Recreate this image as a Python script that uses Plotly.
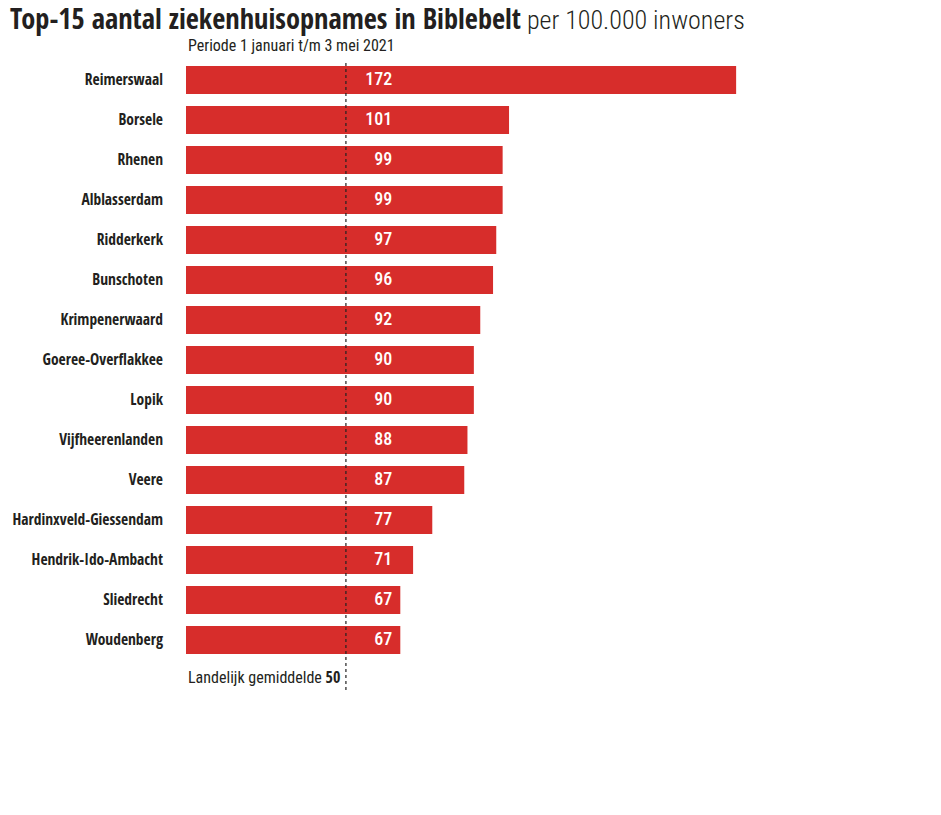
import plotly.graph_objects as go

gemeenten = ["Reimerswaal", "Borsele", "Rhenen", "Alblasserdam", "Ridderkerk",
             "Bunschoten", "Krimpenerwaard", "Goeree-Overflakkee", "Lopik",
             "Vijfheerenlanden", "Veere", "Hardinxveld-Giessendam",
             "Hendrik-Ido-Ambacht", "Sliedrecht", "Woudenberg"]
opnames = [172, 101, 99, 99, 97, 96, 92, 90, 90, 88, 87, 77, 71, 67, 67]
landelijk_gemiddelde = 50

FONT = "Roboto Condensed, Liberation Sans"
BOLDFONT = "Open Sans Condensed, Roboto Condensed"
RED = "#d72d2b"
INK = "#231f20"

fig = go.Figure()
fig.add_trace(go.Bar(
    y=gemeenten, x=opnames, orientation="h",
    marker=dict(color=RED, line=dict(width=0)),
    width=0.7, hoverinfo="skip",
))
# value labels, right-aligned at a fixed position inside the bars
fig.add_trace(go.Scatter(
    y=gemeenten, x=[64.5] * len(opnames), mode="text",
    text=[str(v) for v in opnames], textposition="middle left",
    textfont=dict(family=FONT, size=18, color="white", weight=500),
    hoverinfo="skip", showlegend=False,
))

fig.add_shape(type="line", xref="x", yref="paper",
              x0=landelijk_gemiddelde, x1=landelijk_gemiddelde, y0=-0.05, y1=0.997,
              line=dict(color="#222", width=1.2, dash="dot"))

fig.add_annotation(xref="paper", yref="paper", x=0, y=-0.006, xanchor="left", yanchor="top",
                   text="Landelijk gemiddelde <span style='font-family:Open Sans Condensed'><b>%d</b></span>" % landelijk_gemiddelde,
                   showarrow=False, font=dict(family=FONT, size=16, color=INK))
fig.add_annotation(xref="paper", yref="paper", x=0, y=1.0055, xanchor="left", yanchor="bottom",
                   text="Periode 1 januari t/m 3 mei 2021",
                   showarrow=False, font=dict(family=FONT, size=16, color=INK))

fig.update_layout(
    width=941, height=815,
    margin=dict(l=178, r=28, t=52, b=163),
    paper_bgcolor="white", plot_bgcolor="white",
    showlegend=False,
    title=dict(text="<span style='font-family:Open Sans Condensed'><b>Top-15 aantal ziekenhuisopnames in Biblebelt</b></span>"
                    "<span style='font-size:26px;font-weight:300'> per 100.000 inwoners</span>",
               x=0.0021, xanchor="left", y=0.9865, yanchor="middle",
               font=dict(family=FONT, size=28.4, color=INK)),
    xaxis=dict(range=[0, 229.8], visible=False),
    yaxis=dict(range=[14.5, -0.5], showgrid=False, showline=False, ticks="",
               automargin=False, ticklabelstandoff=22,
               tickfont=dict(family=BOLDFONT, size=15.5, color=INK, weight="bold")),
)
fig.write_html("out.html")
